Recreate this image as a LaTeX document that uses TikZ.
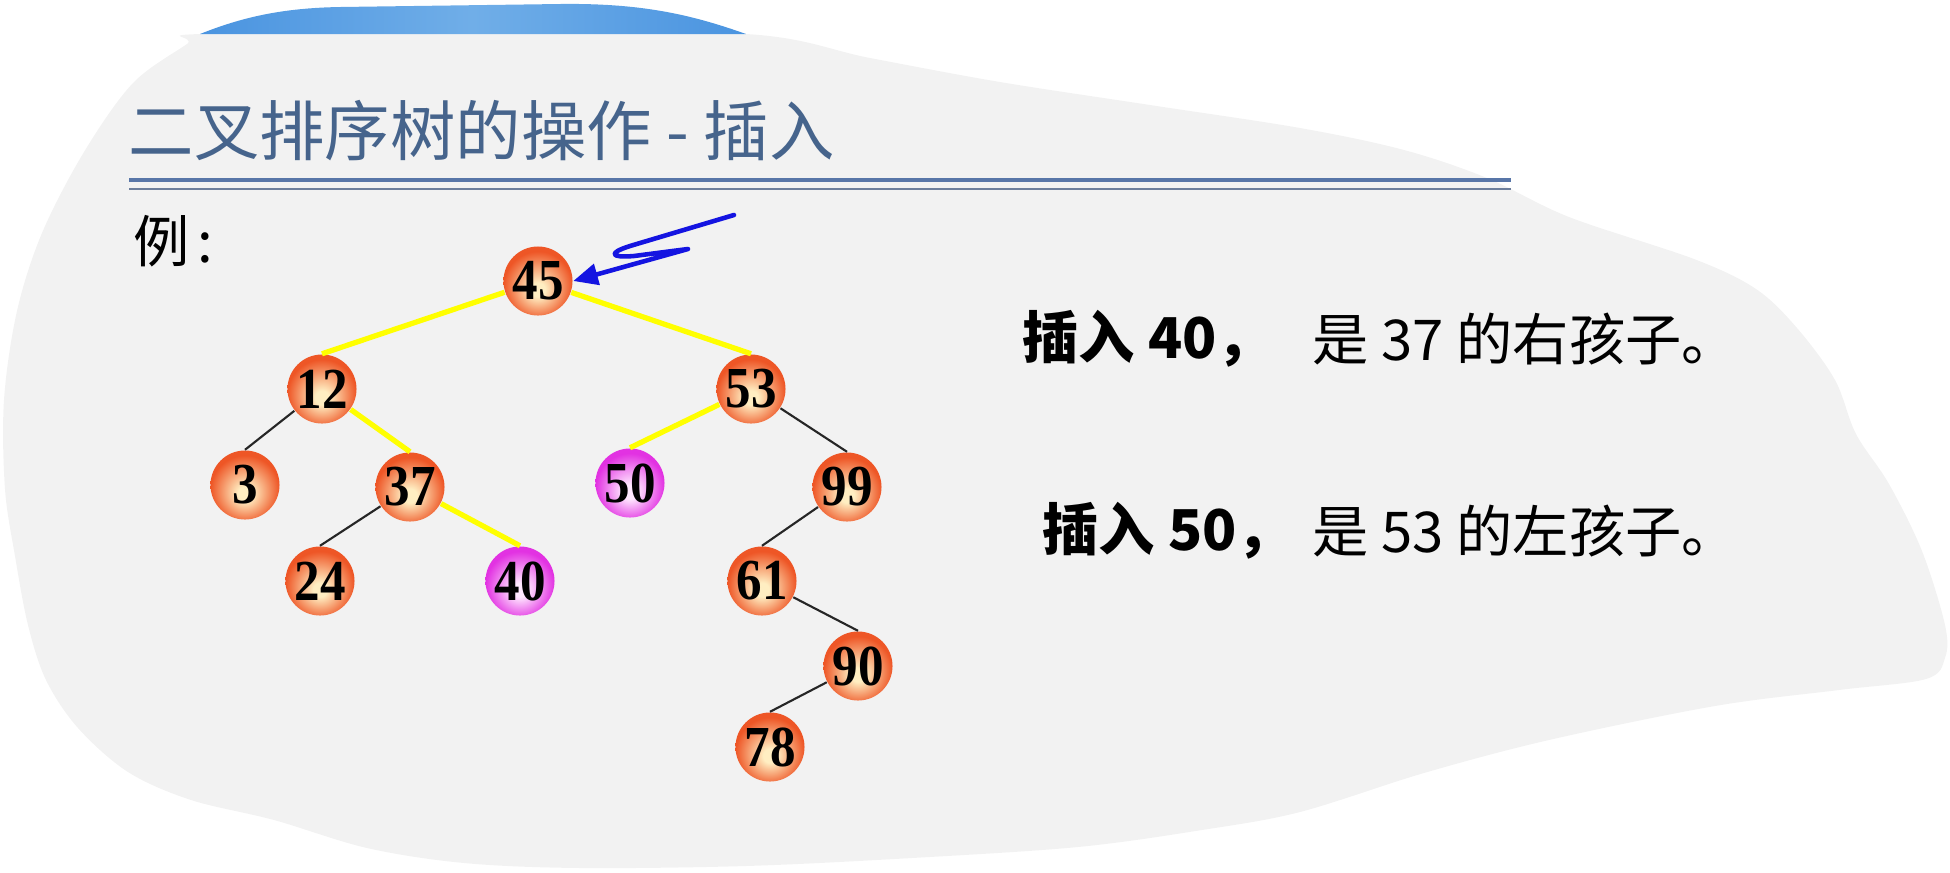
\documentclass[tikz,border=0pt]{standalone}
\usepackage{fontspec}
\newfontfamily\cjk{Noto Sans CJK SC}
\newfontfamily\numfont{Liberation Serif}[FakeStretch=0.88]
\usetikzlibrary{arrows.meta,positioning}

\definecolor{slidegray}{RGB}{242,242,242}
\definecolor{bannerblue}{RGB}{74,148,224}
\definecolor{bannerlight}{RGB}{112,174,232}
\definecolor{titleblue}{RGB}{70,100,140}
\definecolor{ruleblue}{RGB}{88,118,168}
\definecolor{rulegray}{RGB}{108,126,156}
\definecolor{ballrim}{RGB}{238,86,38}
\definecolor{ballcore}{RGB}{255,238,194}
\definecolor{pinkrim}{RGB}{226,50,226}
\definecolor{pinkcore}{RGB}{255,232,255}
\definecolor{pathyellow}{RGB}{255,255,0}
\definecolor{penblue}{RGB}{20,20,225}

\pgfdeclareradialshading{orangeball}{\pgfpoint{0bp}{-7bp}}{color(0bp)=(ballcore); color(5bp)=(ballcore); color(25bp)=(ballrim); color(50bp)=(ballrim)}
\pgfdeclareradialshading{pinkball}{\pgfpoint{0bp}{-7bp}}{color(0bp)=(pinkcore); color(5bp)=(pinkcore); color(25bp)=(pinkrim); color(50bp)=(pinkrim)}

\begin{document}
\begin{tikzpicture}[
  x=0.01cm, y=-0.01cm,
  key/.style={circle, shading=orangeball, minimum size=0.69cm, inner sep=0pt,
    font=\numfont\bfseries\fontsize{16.5}{17}\selectfont},
  newkey/.style={key, shading=pinkball},
  hot/.style={pathyellow, line width=1.5pt},
  plain/.style={black!85, line width=0.6pt},
  pen/.style={penblue, line width=1.3pt, line join=round, line cap=round,
    -{Triangle[length=7pt,width=6pt]}},
  heading/.style={anchor=west, inner sep=0pt, text=titleblue,
    font=\cjk\fontsize{18.6}{21}\selectfont},
  say/.style={anchor=west, inner sep=0pt, font=\cjk\fontsize{16}{19}\selectfont}
]
\useasboundingbox (0,0) rectangle (1950,872);

% slide background
\fill[slidegray] plot[smooth cycle, tension=0.55] coordinates {
  (200,34) (470,34) (746,34) (870,58) (1000,82) (1150,105) (1300,128)
  (1404,150) (1487,178) (1569,217) (1694,259) (1756,289) (1797,328)
  (1835,380) (1856,434) (1889,484) (1922,551) (1945,625) (1945,658)
  (1926,679) (1839,690) (1715,706) (1549,740) (1424,773) (1300,812)
  (1202,830) (1078,847) (912,858) (746,866) (580,868) (464,863)
  (367,848) (274,820) (191,800) (128,772) (78,728) (46,680) (28,625)
  (15,556) (5,489) (4,400) (17,311) (42,233) (84,152) (133,83) (187,44)};
\shade[left color=bannerblue, right color=bannerblue, middle color=bannerlight]
  (200,34) .. controls (240,18) and (280,8) .. (340,7) -- (560,4)
  .. controls (640,3) and (690,14) .. (746,34) -- cycle;

% title
\node[heading] (title) at (128,131) {二叉排序树的操作 - 插入};
\draw[ruleblue, line width=1.2pt] (129,180) coordinate (rulel) -- (1511,180) coordinate (ruler);
\draw[rulegray, line width=0.6pt] (129,189) -- (1511,189);

\node[say] (example) at (133,241) {例\kern2pt:};

% tree
\node[key] (n45) at (538,281) {45};
\node[key] (n12) at (322,389) {12};
\node[key] (n53) at (751,389) {53};
\node[key] (n3) at (245,485) {3};
\node[key] (n37) at (410,487) {37};
\node[newkey] (n50) at (630,483) {50};
\node[key] (n99) at (847,487) {99};
\node[key] (n24) at (320,581) {24};
\node[newkey] (n40) at (520,581) {40};
\node[key] (n61) at (762,581) {61};
\node[key] (n90) at (858,666) {90};
\node[key] (n78) at (770,747) {78};

\foreach \a/\b in {n45/n12, n45/n53, n12/n37, n37/n40, n53/n50}
  \draw[hot] (\a) -- (\b.north);
\foreach \a/\b in {n12/n3, n37/n24, n53/n99, n99/n61, n61/n90, n90/n78}
  \draw[plain] (\a) -- (\b.north);

% hand-drawn pointer
\coordinate (pentop) at (734,215);
\draw[pen] (pentop) -- (630,246) .. controls (608,253) and (610,258) .. (634,256)
  -- (688,249) -- (n45.east);

% notes
\node[say, font=\cjk\bfseries\fontsize{16}{19}\selectfont] (ins40) at (1022,339) {插入 40，};
\node[say] (ans40) at (1312,339) {是 37 的右孩子。};
\node[say, font=\cjk\bfseries\fontsize{16}{19}\selectfont] (ins50) at (1042,531) {插入 50，};
\node[say] (ans50) at (1312,531) {是 53 的左孩子。};

\end{tikzpicture}
\end{document}
